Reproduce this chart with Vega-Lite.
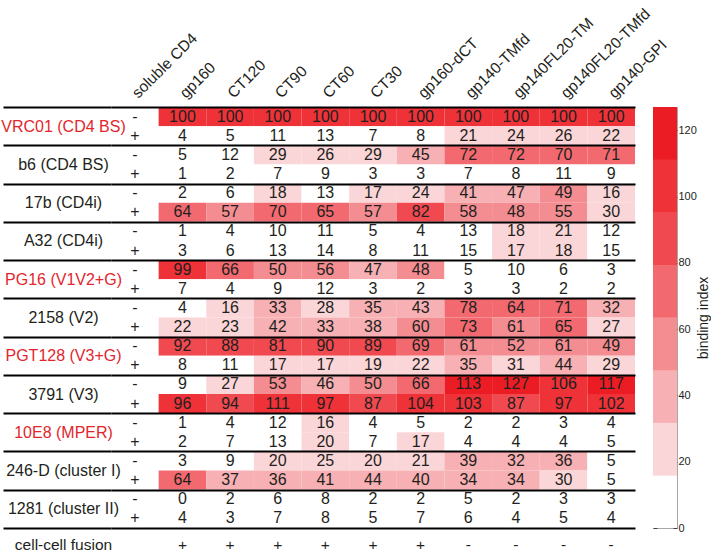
{
  "$schema": "https://vega.github.io/schema/vega-lite/v6.json",
  "padding": {"top": 5, "left": 0, "right": 0, "bottom": 0},
  "columns": 2,
  "spacing": {"row": 0, "column": 18},
  "bounds": "flush",
  "datasets": {
    "cells": [
      {"ab":"VRC01 (CD4 BS)","sign":"-","col":"gp160","value":100},{"ab":"VRC01 (CD4 BS)","sign":"-","col":"CT120","value":100},{"ab":"VRC01 (CD4 BS)","sign":"-","col":"CT90","value":100},{"ab":"VRC01 (CD4 BS)","sign":"-","col":"CT60","value":100},{"ab":"VRC01 (CD4 BS)","sign":"-","col":"CT30","value":100},{"ab":"VRC01 (CD4 BS)","sign":"-","col":"gp160-dCT","value":100},{"ab":"VRC01 (CD4 BS)","sign":"-","col":"gp140-TMfd","value":100},{"ab":"VRC01 (CD4 BS)","sign":"-","col":"gp140FL20-TM","value":100},{"ab":"VRC01 (CD4 BS)","sign":"-","col":"gp140FL20-TMfd","value":100},{"ab":"VRC01 (CD4 BS)","sign":"-","col":"gp140-GPI","value":100},
      {"ab":"VRC01 (CD4 BS)","sign":"+","col":"gp160","value":4},{"ab":"VRC01 (CD4 BS)","sign":"+","col":"CT120","value":5},{"ab":"VRC01 (CD4 BS)","sign":"+","col":"CT90","value":11},{"ab":"VRC01 (CD4 BS)","sign":"+","col":"CT60","value":13},{"ab":"VRC01 (CD4 BS)","sign":"+","col":"CT30","value":7},{"ab":"VRC01 (CD4 BS)","sign":"+","col":"gp160-dCT","value":8},{"ab":"VRC01 (CD4 BS)","sign":"+","col":"gp140-TMfd","value":21},{"ab":"VRC01 (CD4 BS)","sign":"+","col":"gp140FL20-TM","value":24},{"ab":"VRC01 (CD4 BS)","sign":"+","col":"gp140FL20-TMfd","value":26},{"ab":"VRC01 (CD4 BS)","sign":"+","col":"gp140-GPI","value":22},
      {"ab":"b6 (CD4 BS)","sign":"-","col":"gp160","value":5},{"ab":"b6 (CD4 BS)","sign":"-","col":"CT120","value":12},{"ab":"b6 (CD4 BS)","sign":"-","col":"CT90","value":29},{"ab":"b6 (CD4 BS)","sign":"-","col":"CT60","value":26},{"ab":"b6 (CD4 BS)","sign":"-","col":"CT30","value":29},{"ab":"b6 (CD4 BS)","sign":"-","col":"gp160-dCT","value":45},{"ab":"b6 (CD4 BS)","sign":"-","col":"gp140-TMfd","value":72},{"ab":"b6 (CD4 BS)","sign":"-","col":"gp140FL20-TM","value":72},{"ab":"b6 (CD4 BS)","sign":"-","col":"gp140FL20-TMfd","value":70},{"ab":"b6 (CD4 BS)","sign":"-","col":"gp140-GPI","value":71},
      {"ab":"b6 (CD4 BS)","sign":"+","col":"gp160","value":1},{"ab":"b6 (CD4 BS)","sign":"+","col":"CT120","value":2},{"ab":"b6 (CD4 BS)","sign":"+","col":"CT90","value":7},{"ab":"b6 (CD4 BS)","sign":"+","col":"CT60","value":9},{"ab":"b6 (CD4 BS)","sign":"+","col":"CT30","value":3},{"ab":"b6 (CD4 BS)","sign":"+","col":"gp160-dCT","value":3},{"ab":"b6 (CD4 BS)","sign":"+","col":"gp140-TMfd","value":7},{"ab":"b6 (CD4 BS)","sign":"+","col":"gp140FL20-TM","value":8},{"ab":"b6 (CD4 BS)","sign":"+","col":"gp140FL20-TMfd","value":11},{"ab":"b6 (CD4 BS)","sign":"+","col":"gp140-GPI","value":9},
      {"ab":"17b (CD4i)","sign":"-","col":"gp160","value":2},{"ab":"17b (CD4i)","sign":"-","col":"CT120","value":6},{"ab":"17b (CD4i)","sign":"-","col":"CT90","value":18},{"ab":"17b (CD4i)","sign":"-","col":"CT60","value":13},{"ab":"17b (CD4i)","sign":"-","col":"CT30","value":17},{"ab":"17b (CD4i)","sign":"-","col":"gp160-dCT","value":24},{"ab":"17b (CD4i)","sign":"-","col":"gp140-TMfd","value":41},{"ab":"17b (CD4i)","sign":"-","col":"gp140FL20-TM","value":47},{"ab":"17b (CD4i)","sign":"-","col":"gp140FL20-TMfd","value":49},{"ab":"17b (CD4i)","sign":"-","col":"gp140-GPI","value":16},
      {"ab":"17b (CD4i)","sign":"+","col":"gp160","value":64},{"ab":"17b (CD4i)","sign":"+","col":"CT120","value":57},{"ab":"17b (CD4i)","sign":"+","col":"CT90","value":70},{"ab":"17b (CD4i)","sign":"+","col":"CT60","value":65},{"ab":"17b (CD4i)","sign":"+","col":"CT30","value":57},{"ab":"17b (CD4i)","sign":"+","col":"gp160-dCT","value":82},{"ab":"17b (CD4i)","sign":"+","col":"gp140-TMfd","value":58},{"ab":"17b (CD4i)","sign":"+","col":"gp140FL20-TM","value":48},{"ab":"17b (CD4i)","sign":"+","col":"gp140FL20-TMfd","value":55},{"ab":"17b (CD4i)","sign":"+","col":"gp140-GPI","value":30},
      {"ab":"A32 (CD4i)","sign":"-","col":"gp160","value":1},{"ab":"A32 (CD4i)","sign":"-","col":"CT120","value":4},{"ab":"A32 (CD4i)","sign":"-","col":"CT90","value":10},{"ab":"A32 (CD4i)","sign":"-","col":"CT60","value":11},{"ab":"A32 (CD4i)","sign":"-","col":"CT30","value":5},{"ab":"A32 (CD4i)","sign":"-","col":"gp160-dCT","value":4},{"ab":"A32 (CD4i)","sign":"-","col":"gp140-TMfd","value":13},{"ab":"A32 (CD4i)","sign":"-","col":"gp140FL20-TM","value":18},{"ab":"A32 (CD4i)","sign":"-","col":"gp140FL20-TMfd","value":21},{"ab":"A32 (CD4i)","sign":"-","col":"gp140-GPI","value":12},
      {"ab":"A32 (CD4i)","sign":"+","col":"gp160","value":3},{"ab":"A32 (CD4i)","sign":"+","col":"CT120","value":6},{"ab":"A32 (CD4i)","sign":"+","col":"CT90","value":13},{"ab":"A32 (CD4i)","sign":"+","col":"CT60","value":14},{"ab":"A32 (CD4i)","sign":"+","col":"CT30","value":8},{"ab":"A32 (CD4i)","sign":"+","col":"gp160-dCT","value":11},{"ab":"A32 (CD4i)","sign":"+","col":"gp140-TMfd","value":15},{"ab":"A32 (CD4i)","sign":"+","col":"gp140FL20-TM","value":17},{"ab":"A32 (CD4i)","sign":"+","col":"gp140FL20-TMfd","value":18},{"ab":"A32 (CD4i)","sign":"+","col":"gp140-GPI","value":15},
      {"ab":"PG16 (V1V2+G)","sign":"-","col":"gp160","value":99},{"ab":"PG16 (V1V2+G)","sign":"-","col":"CT120","value":66},{"ab":"PG16 (V1V2+G)","sign":"-","col":"CT90","value":50},{"ab":"PG16 (V1V2+G)","sign":"-","col":"CT60","value":56},{"ab":"PG16 (V1V2+G)","sign":"-","col":"CT30","value":47},{"ab":"PG16 (V1V2+G)","sign":"-","col":"gp160-dCT","value":48},{"ab":"PG16 (V1V2+G)","sign":"-","col":"gp140-TMfd","value":5},{"ab":"PG16 (V1V2+G)","sign":"-","col":"gp140FL20-TM","value":10},{"ab":"PG16 (V1V2+G)","sign":"-","col":"gp140FL20-TMfd","value":6},{"ab":"PG16 (V1V2+G)","sign":"-","col":"gp140-GPI","value":3},
      {"ab":"PG16 (V1V2+G)","sign":"+","col":"gp160","value":7},{"ab":"PG16 (V1V2+G)","sign":"+","col":"CT120","value":4},{"ab":"PG16 (V1V2+G)","sign":"+","col":"CT90","value":9},{"ab":"PG16 (V1V2+G)","sign":"+","col":"CT60","value":12},{"ab":"PG16 (V1V2+G)","sign":"+","col":"CT30","value":3},{"ab":"PG16 (V1V2+G)","sign":"+","col":"gp160-dCT","value":2},{"ab":"PG16 (V1V2+G)","sign":"+","col":"gp140-TMfd","value":3},{"ab":"PG16 (V1V2+G)","sign":"+","col":"gp140FL20-TM","value":3},{"ab":"PG16 (V1V2+G)","sign":"+","col":"gp140FL20-TMfd","value":2},{"ab":"PG16 (V1V2+G)","sign":"+","col":"gp140-GPI","value":2},
      {"ab":"2158 (V2)","sign":"-","col":"gp160","value":4},{"ab":"2158 (V2)","sign":"-","col":"CT120","value":16},{"ab":"2158 (V2)","sign":"-","col":"CT90","value":33},{"ab":"2158 (V2)","sign":"-","col":"CT60","value":28},{"ab":"2158 (V2)","sign":"-","col":"CT30","value":35},{"ab":"2158 (V2)","sign":"-","col":"gp160-dCT","value":43},{"ab":"2158 (V2)","sign":"-","col":"gp140-TMfd","value":78},{"ab":"2158 (V2)","sign":"-","col":"gp140FL20-TM","value":64},{"ab":"2158 (V2)","sign":"-","col":"gp140FL20-TMfd","value":71},{"ab":"2158 (V2)","sign":"-","col":"gp140-GPI","value":32},
      {"ab":"2158 (V2)","sign":"+","col":"gp160","value":22},{"ab":"2158 (V2)","sign":"+","col":"CT120","value":23},{"ab":"2158 (V2)","sign":"+","col":"CT90","value":42},{"ab":"2158 (V2)","sign":"+","col":"CT60","value":33},{"ab":"2158 (V2)","sign":"+","col":"CT30","value":38},{"ab":"2158 (V2)","sign":"+","col":"gp160-dCT","value":60},{"ab":"2158 (V2)","sign":"+","col":"gp140-TMfd","value":73},{"ab":"2158 (V2)","sign":"+","col":"gp140FL20-TM","value":61},{"ab":"2158 (V2)","sign":"+","col":"gp140FL20-TMfd","value":65},{"ab":"2158 (V2)","sign":"+","col":"gp140-GPI","value":27},
      {"ab":"PGT128 (V3+G)","sign":"-","col":"gp160","value":92},{"ab":"PGT128 (V3+G)","sign":"-","col":"CT120","value":88},{"ab":"PGT128 (V3+G)","sign":"-","col":"CT90","value":81},{"ab":"PGT128 (V3+G)","sign":"-","col":"CT60","value":90},{"ab":"PGT128 (V3+G)","sign":"-","col":"CT30","value":89},{"ab":"PGT128 (V3+G)","sign":"-","col":"gp160-dCT","value":69},{"ab":"PGT128 (V3+G)","sign":"-","col":"gp140-TMfd","value":61},{"ab":"PGT128 (V3+G)","sign":"-","col":"gp140FL20-TM","value":52},{"ab":"PGT128 (V3+G)","sign":"-","col":"gp140FL20-TMfd","value":61},{"ab":"PGT128 (V3+G)","sign":"-","col":"gp140-GPI","value":49},
      {"ab":"PGT128 (V3+G)","sign":"+","col":"gp160","value":8},{"ab":"PGT128 (V3+G)","sign":"+","col":"CT120","value":11},{"ab":"PGT128 (V3+G)","sign":"+","col":"CT90","value":17},{"ab":"PGT128 (V3+G)","sign":"+","col":"CT60","value":17},{"ab":"PGT128 (V3+G)","sign":"+","col":"CT30","value":19},{"ab":"PGT128 (V3+G)","sign":"+","col":"gp160-dCT","value":22},{"ab":"PGT128 (V3+G)","sign":"+","col":"gp140-TMfd","value":35},{"ab":"PGT128 (V3+G)","sign":"+","col":"gp140FL20-TM","value":31},{"ab":"PGT128 (V3+G)","sign":"+","col":"gp140FL20-TMfd","value":44},{"ab":"PGT128 (V3+G)","sign":"+","col":"gp140-GPI","value":29},
      {"ab":"3791 (V3)","sign":"-","col":"gp160","value":9},{"ab":"3791 (V3)","sign":"-","col":"CT120","value":27},{"ab":"3791 (V3)","sign":"-","col":"CT90","value":53},{"ab":"3791 (V3)","sign":"-","col":"CT60","value":46},{"ab":"3791 (V3)","sign":"-","col":"CT30","value":50},{"ab":"3791 (V3)","sign":"-","col":"gp160-dCT","value":66},{"ab":"3791 (V3)","sign":"-","col":"gp140-TMfd","value":113},{"ab":"3791 (V3)","sign":"-","col":"gp140FL20-TM","value":127},{"ab":"3791 (V3)","sign":"-","col":"gp140FL20-TMfd","value":106},{"ab":"3791 (V3)","sign":"-","col":"gp140-GPI","value":117},
      {"ab":"3791 (V3)","sign":"+","col":"gp160","value":96},{"ab":"3791 (V3)","sign":"+","col":"CT120","value":94},{"ab":"3791 (V3)","sign":"+","col":"CT90","value":111},{"ab":"3791 (V3)","sign":"+","col":"CT60","value":97},{"ab":"3791 (V3)","sign":"+","col":"CT30","value":87},{"ab":"3791 (V3)","sign":"+","col":"gp160-dCT","value":104},{"ab":"3791 (V3)","sign":"+","col":"gp140-TMfd","value":103},{"ab":"3791 (V3)","sign":"+","col":"gp140FL20-TM","value":87},{"ab":"3791 (V3)","sign":"+","col":"gp140FL20-TMfd","value":97},{"ab":"3791 (V3)","sign":"+","col":"gp140-GPI","value":102},
      {"ab":"10E8 (MPER)","sign":"-","col":"gp160","value":1},{"ab":"10E8 (MPER)","sign":"-","col":"CT120","value":4},{"ab":"10E8 (MPER)","sign":"-","col":"CT90","value":12},{"ab":"10E8 (MPER)","sign":"-","col":"CT60","value":16},{"ab":"10E8 (MPER)","sign":"-","col":"CT30","value":4},{"ab":"10E8 (MPER)","sign":"-","col":"gp160-dCT","value":5},{"ab":"10E8 (MPER)","sign":"-","col":"gp140-TMfd","value":2},{"ab":"10E8 (MPER)","sign":"-","col":"gp140FL20-TM","value":2},{"ab":"10E8 (MPER)","sign":"-","col":"gp140FL20-TMfd","value":3},{"ab":"10E8 (MPER)","sign":"-","col":"gp140-GPI","value":4},
      {"ab":"10E8 (MPER)","sign":"+","col":"gp160","value":2},{"ab":"10E8 (MPER)","sign":"+","col":"CT120","value":7},{"ab":"10E8 (MPER)","sign":"+","col":"CT90","value":13},{"ab":"10E8 (MPER)","sign":"+","col":"CT60","value":20},{"ab":"10E8 (MPER)","sign":"+","col":"CT30","value":7},{"ab":"10E8 (MPER)","sign":"+","col":"gp160-dCT","value":17},{"ab":"10E8 (MPER)","sign":"+","col":"gp140-TMfd","value":4},{"ab":"10E8 (MPER)","sign":"+","col":"gp140FL20-TM","value":4},{"ab":"10E8 (MPER)","sign":"+","col":"gp140FL20-TMfd","value":4},{"ab":"10E8 (MPER)","sign":"+","col":"gp140-GPI","value":5},
      {"ab":"246-D (cluster I)","sign":"-","col":"gp160","value":3},{"ab":"246-D (cluster I)","sign":"-","col":"CT120","value":9},{"ab":"246-D (cluster I)","sign":"-","col":"CT90","value":20},{"ab":"246-D (cluster I)","sign":"-","col":"CT60","value":25},{"ab":"246-D (cluster I)","sign":"-","col":"CT30","value":20},{"ab":"246-D (cluster I)","sign":"-","col":"gp160-dCT","value":21},{"ab":"246-D (cluster I)","sign":"-","col":"gp140-TMfd","value":39},{"ab":"246-D (cluster I)","sign":"-","col":"gp140FL20-TM","value":32},{"ab":"246-D (cluster I)","sign":"-","col":"gp140FL20-TMfd","value":36},{"ab":"246-D (cluster I)","sign":"-","col":"gp140-GPI","value":5},
      {"ab":"246-D (cluster I)","sign":"+","col":"gp160","value":64},{"ab":"246-D (cluster I)","sign":"+","col":"CT120","value":37},{"ab":"246-D (cluster I)","sign":"+","col":"CT90","value":36},{"ab":"246-D (cluster I)","sign":"+","col":"CT60","value":41},{"ab":"246-D (cluster I)","sign":"+","col":"CT30","value":44},{"ab":"246-D (cluster I)","sign":"+","col":"gp160-dCT","value":40},{"ab":"246-D (cluster I)","sign":"+","col":"gp140-TMfd","value":34},{"ab":"246-D (cluster I)","sign":"+","col":"gp140FL20-TM","value":34},{"ab":"246-D (cluster I)","sign":"+","col":"gp140FL20-TMfd","value":30},{"ab":"246-D (cluster I)","sign":"+","col":"gp140-GPI","value":5},
      {"ab":"1281 (cluster II)","sign":"-","col":"gp160","value":0},{"ab":"1281 (cluster II)","sign":"-","col":"CT120","value":2},{"ab":"1281 (cluster II)","sign":"-","col":"CT90","value":6},{"ab":"1281 (cluster II)","sign":"-","col":"CT60","value":8},{"ab":"1281 (cluster II)","sign":"-","col":"CT30","value":2},{"ab":"1281 (cluster II)","sign":"-","col":"gp160-dCT","value":2},{"ab":"1281 (cluster II)","sign":"-","col":"gp140-TMfd","value":5},{"ab":"1281 (cluster II)","sign":"-","col":"gp140FL20-TM","value":2},{"ab":"1281 (cluster II)","sign":"-","col":"gp140FL20-TMfd","value":3},{"ab":"1281 (cluster II)","sign":"-","col":"gp140-GPI","value":3},
      {"ab":"1281 (cluster II)","sign":"+","col":"gp160","value":4},{"ab":"1281 (cluster II)","sign":"+","col":"CT120","value":3},{"ab":"1281 (cluster II)","sign":"+","col":"CT90","value":7},{"ab":"1281 (cluster II)","sign":"+","col":"CT60","value":8},{"ab":"1281 (cluster II)","sign":"+","col":"CT30","value":5},{"ab":"1281 (cluster II)","sign":"+","col":"gp160-dCT","value":7},{"ab":"1281 (cluster II)","sign":"+","col":"gp140-TMfd","value":6},{"ab":"1281 (cluster II)","sign":"+","col":"gp140FL20-TM","value":4},{"ab":"1281 (cluster II)","sign":"+","col":"gp140FL20-TMfd","value":5},{"ab":"1281 (cluster II)","sign":"+","col":"gp140-GPI","value":4}
    ],
    "signs": [
      {"ab":"VRC01 (CD4 BS)","sign":"-","col":"soluble CD4"},{"ab":"VRC01 (CD4 BS)","sign":"+","col":"soluble CD4"},
      {"ab":"b6 (CD4 BS)","sign":"-","col":"soluble CD4"},{"ab":"b6 (CD4 BS)","sign":"+","col":"soluble CD4"},
      {"ab":"17b (CD4i)","sign":"-","col":"soluble CD4"},{"ab":"17b (CD4i)","sign":"+","col":"soluble CD4"},
      {"ab":"A32 (CD4i)","sign":"-","col":"soluble CD4"},{"ab":"A32 (CD4i)","sign":"+","col":"soluble CD4"},
      {"ab":"PG16 (V1V2+G)","sign":"-","col":"soluble CD4"},{"ab":"PG16 (V1V2+G)","sign":"+","col":"soluble CD4"},
      {"ab":"2158 (V2)","sign":"-","col":"soluble CD4"},{"ab":"2158 (V2)","sign":"+","col":"soluble CD4"},
      {"ab":"PGT128 (V3+G)","sign":"-","col":"soluble CD4"},{"ab":"PGT128 (V3+G)","sign":"+","col":"soluble CD4"},
      {"ab":"3791 (V3)","sign":"-","col":"soluble CD4"},{"ab":"3791 (V3)","sign":"+","col":"soluble CD4"},
      {"ab":"10E8 (MPER)","sign":"-","col":"soluble CD4"},{"ab":"10E8 (MPER)","sign":"+","col":"soluble CD4"},
      {"ab":"246-D (cluster I)","sign":"-","col":"soluble CD4"},{"ab":"246-D (cluster I)","sign":"+","col":"soluble CD4"},
      {"ab":"1281 (cluster II)","sign":"-","col":"soluble CD4"},{"ab":"1281 (cluster II)","sign":"+","col":"soluble CD4"}
    ],
    "fusion": [
      {"row":"cell-cell fusion","col":"gp160","fusion":"+"},{"row":"cell-cell fusion","col":"CT120","fusion":"+"},{"row":"cell-cell fusion","col":"CT90","fusion":"+"},{"row":"cell-cell fusion","col":"CT60","fusion":"+"},{"row":"cell-cell fusion","col":"CT30","fusion":"+"},{"row":"cell-cell fusion","col":"gp160-dCT","fusion":"+"},{"row":"cell-cell fusion","col":"gp140-TMfd","fusion":"-"},{"row":"cell-cell fusion","col":"gp140FL20-TM","fusion":"-"},{"row":"cell-cell fusion","col":"gp140FL20-TMfd","fusion":"-"},{"row":"cell-cell fusion","col":"gp140-GPI","fusion":"-"}
    ],
    "bins": [
      {"lo":0,"hi":15.875,"mid":7.9},{"lo":15.875,"hi":31.75,"mid":23.8},{"lo":31.75,"hi":47.625,"mid":39.7},{"lo":47.625,"hi":63.5,"mid":55.6},{"lo":63.5,"hi":79.375,"mid":71.4},{"lo":79.375,"hi":95.25,"mid":87.3},{"lo":95.25,"hi":111.125,"mid":103.2},{"lo":111.125,"hi":127,"mid":119.1}
    ]
  },
  "concat": [
    {
      "width": 524,
      "height": 421,
      "layer": [
        {
          "data": {"name": "cells"},
          "mark": {"type": "rect"},
          "encoding": {
            "x": {"field": "col", "type": "nominal",
              "scale": {"domain": ["soluble CD4","gp160","CT120","CT90","CT60","CT30","gp160-dCT","gp140-TMfd","gp140FL20-TM","gp140FL20-TMfd","gp140-GPI"], "paddingInner": 0, "paddingOuter": 0},
              "axis": {"orient": "top", "title": null, "labelAngle": -45, "labelAlign": "left", "labelBaseline": "middle", "labelPadding": 12, "ticks": false, "domain": false, "labelFontSize": 15.5, "labelColor": "#231f20"}},
            "y": {"field": "ab", "type": "nominal",
              "scale": {"domain": ["VRC01 (CD4 BS)","b6 (CD4 BS)","17b (CD4i)","A32 (CD4i)","PG16 (V1V2+G)","2158 (V2)","PGT128 (V3+G)","3791 (V3)","10E8 (MPER)","246-D (cluster I)","1281 (cluster II)"], "paddingInner": 0, "paddingOuter": 0},
              "axis": {"title": null, "domain": false, "tickBand": "extent", "ticks": true, "tickSize": 108, "tickWidth": 2, "tickColor": "#000000", "grid": true, "gridColor": "#000000", "gridWidth": 2, "gridOpacity": 1, "labelPadding": -60, "labelAlign": "center", "labelBaseline": "middle", "labelFontSize": 16, "zindex": 2,
                "labelColor": {"condition": {"test": "indexof(['VRC01 (CD4 BS)','PG16 (V1V2+G)','PGT128 (V3+G)','10E8 (MPER)'], datum.value) >= 0", "value": "#e3262e"}, "value": "#231f20"}}},
            "yOffset": {"field": "sign", "type": "nominal", "scale": {"domain": ["-", "+"], "paddingInner": 0, "paddingOuter": 0}},
            "color": {"field": "value", "type": "quantitative",
              "scale": {"type": "quantize", "domain": [0, 127], "nice": false, "zero": false, "range": ["#ffffff","#fbd6d8","#f7b0b3","#f48d91","#f26a6f","#f04a50","#ee3238","#ec1c24"]},
              "legend": null}
          }
        },
        {
          "data": {"name": "cells"},
          "mark": {"type": "text", "fontSize": 16, "color": "#231f20"},
          "encoding": {
            "x": {"field": "col", "type": "nominal"},
            "y": {"field": "ab", "type": "nominal"},
            "yOffset": {"field": "sign", "type": "nominal"},
            "text": {"field": "value", "type": "quantitative"}
          }
        },
        {
          "data": {"name": "signs"},
          "mark": {"type": "text", "fontSize": 16, "color": "#231f20"},
          "encoding": {
            "x": {"field": "col", "type": "nominal"},
            "y": {"field": "ab", "type": "nominal"},
            "yOffset": {"field": "sign", "type": "nominal"},
            "text": {"field": "sign", "type": "nominal"}
          }
        }
      ]
    },
    {
      "width": 24,
      "height": 421,
      "data": {"name": "bins"},
      "view": {"stroke": "#a8a8a8", "strokeWidth": 1},
      "layer": [
        {
          "mark": {"type": "rect"},
          "encoding": {
            "x": {"datum": 0, "type": "quantitative", "scale": {"domain": [0, 1], "nice": false}, "axis": null},
            "x2": {"datum": 1},
            "y": {"field": "lo", "type": "quantitative",
              "scale": {"domain": [0, 127], "nice": false, "zero": true},
              "axis": {"orient": "right", "values": [0,20,40,60,80,100,120], "title": "binding index", "titleAngle": 270, "titleBaseline": "top", "titlePadding": 0, "titleFontSize": 14, "titleFontWeight": "normal", "titleColor": "#231f20", "labelFontSize": 11, "labelColor": "#231f20", "labelPadding": 5, "tickSize": -4, "tickColor": "#444444", "domain": false, "grid": false}},
            "y2": {"field": "hi"},
            "color": {"field": "mid", "type": "quantitative",
              "scale": {"type": "quantize", "domain": [0, 127], "nice": false, "zero": false, "range": ["#ffffff","#fbd6d8","#f7b0b3","#f48d91","#f26a6f","#f04a50","#ee3238","#ec1c24"]},
              "legend": null}
          }
        },
        {
          "mark": {"type": "rect"},
          "encoding": {
            "x": {"datum": 0, "type": "quantitative", "scale": {"domain": [0, 1], "nice": false}, "axis": null},
            "x2": {"datum": 1},
            "y": {"field": "lo", "type": "quantitative",
              "scale": {"domain": [0, 127], "nice": false, "zero": true},
              "axis": {"orient": "left", "values": [0,20,40,60,80,100,120], "title": null, "labels": false, "tickSize": -4, "tickColor": "#444444", "domain": false, "grid": false}},
            "y2": {"field": "hi"},
            "color": {"field": "mid", "type": "quantitative",
              "scale": {"type": "quantize", "domain": [0, 127], "nice": false, "zero": false, "range": ["#ffffff","#fbd6d8","#f7b0b3","#f48d91","#f26a6f","#f04a50","#ee3238","#ec1c24"]},
              "legend": null}
          }
        }
      ],
      "resolve": {"axis": {"y": "independent"}}
    },
    {
      "width": 524,
      "height": 22,
      "data": {"name": "fusion"},
      "mark": {"type": "text", "fontSize": 15.5, "color": "#231f20"},
      "encoding": {
        "x": {"field": "col", "type": "nominal",
          "scale": {"domain": ["soluble CD4","gp160","CT120","CT90","CT60","CT30","gp160-dCT","gp140-TMfd","gp140FL20-TM","gp140FL20-TMfd","gp140-GPI"], "paddingInner": 0, "paddingOuter": 0},
          "axis": null},
        "y": {"field": "row", "type": "nominal",
          "scale": {"domain": ["", "cell-cell fusion"], "paddingInner": 0, "paddingOuter": 0},
          "axis": {"title": null, "domain": false, "ticks": false, "labelPadding": 48, "labelAlign": "center", "labelBaseline": "middle", "labelFontSize": 15.5, "labelColor": "#231f20"}},
        "text": {"field": "fusion", "type": "nominal"}
      }
    }
  ],
  "config": {
    "font": "Liberation Sans",
    "view": {"stroke": null},
    "axis": {"labelFont": "Liberation Sans", "titleFont": "Liberation Sans"},
    "text": {"font": "Liberation Sans"}
  }
}
